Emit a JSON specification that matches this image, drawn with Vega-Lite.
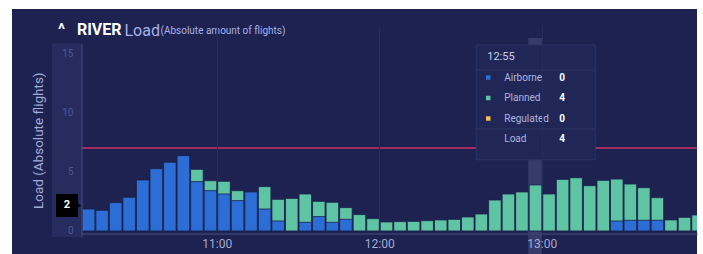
{
  "$schema": "https://vega.github.io/schema/vega-lite/v6.json",
  "width": 685,
  "height": 245,
  "autosize": {"type": "none"},
  "padding": {"left": 12, "top": 9, "right": 6, "bottom": 0},
  "background": "#ffffff",
  "config": {"view": {"fill": "#1d2251", "stroke": null}, "font": "Roboto"},
  "title": {"text": "^\u00a0\u00a0\u00a0RIVER", "anchor": "start", "frame": "group", "dx": 46, "offset": -42, "baseline": "alphabetic", "color": "#ffffff", "fontSize": 16, "fontWeight": "bold", "font": "Roboto"},
  "datasets": {
    "load": [
      {"t": "2024-01-01T10:10", "airborne": 1.85, "load": 1.85},
      {"t": "2024-01-01T10:15", "airborne": 1.74, "load": 1.74},
      {"t": "2024-01-01T10:20", "airborne": 2.39, "load": 2.39},
      {"t": "2024-01-01T10:25", "airborne": 2.84, "load": 2.84},
      {"t": "2024-01-01T10:30", "airborne": 4.3, "load": 4.3},
      {"t": "2024-01-01T10:35", "airborne": 5.25, "load": 5.25},
      {"t": "2024-01-01T10:40", "airborne": 5.79, "load": 5.79},
      {"t": "2024-01-01T10:45", "airborne": 6.35, "load": 6.35},
      {"t": "2024-01-01T10:50", "airborne": 4.16, "load": 5.2},
      {"t": "2024-01-01T10:55", "airborne": 3.4, "load": 4.24},
      {"t": "2024-01-01T11:00", "airborne": 3.12, "load": 4.19},
      {"t": "2024-01-01T11:05", "airborne": 2.56, "load": 3.4},
      {"t": "2024-01-01T11:10", "airborne": 3.29, "load": 3.29},
      {"t": "2024-01-01T11:15", "airborne": 1.85, "load": 3.74},
      {"t": "2024-01-01T11:20", "airborne": 0.84, "load": 2.67},
      {"t": "2024-01-01T11:25", "airborne": 0, "load": 2.75},
      {"t": "2024-01-01T11:30", "airborne": 0.73, "load": 3.12},
      {"t": "2024-01-01T11:35", "airborne": 1.21, "load": 2.5},
      {"t": "2024-01-01T11:40", "airborne": 0.73, "load": 2.42},
      {"t": "2024-01-01T11:45", "airborne": 0.98, "load": 1.97},
      {"t": "2024-01-01T11:50", "airborne": 0, "load": 1.38},
      {"t": "2024-01-01T11:55", "airborne": 0, "load": 1.04},
      {"t": "2024-01-01T12:00", "airborne": 0, "load": 0.76},
      {"t": "2024-01-01T12:05", "airborne": 0, "load": 0.79},
      {"t": "2024-01-01T12:10", "airborne": 0, "load": 0.81},
      {"t": "2024-01-01T12:15", "airborne": 0, "load": 0.87},
      {"t": "2024-01-01T12:20", "airborne": 0, "load": 0.93},
      {"t": "2024-01-01T12:25", "airborne": 0, "load": 0.98},
      {"t": "2024-01-01T12:30", "airborne": 0, "load": 1.18},
      {"t": "2024-01-01T12:35", "airborne": 0, "load": 1.43},
      {"t": "2024-01-01T12:40", "airborne": 0, "load": 2.61},
      {"t": "2024-01-01T12:45", "airborne": 0, "load": 3.12},
      {"t": "2024-01-01T12:50", "airborne": 0, "load": 3.29},
      {"t": "2024-01-01T12:55", "airborne": 0, "load": 3.88},
      {"t": "2024-01-01T13:00", "airborne": 0, "load": 3.12},
      {"t": "2024-01-01T13:05", "airborne": 0, "load": 4.35},
      {"t": "2024-01-01T13:10", "airborne": 0, "load": 4.49},
      {"t": "2024-01-01T13:15", "airborne": 0, "load": 3.82},
      {"t": "2024-01-01T13:20", "airborne": 0, "load": 4.27},
      {"t": "2024-01-01T13:25", "airborne": 0.84, "load": 4.38},
      {"t": "2024-01-01T13:30", "airborne": 0.9, "load": 3.96},
      {"t": "2024-01-01T13:35", "airborne": 0.9, "load": 3.65},
      {"t": "2024-01-01T13:40", "airborne": 0.9, "load": 2.81},
      {"t": "2024-01-01T13:45", "airborne": 0, "load": 0.93},
      {"t": "2024-01-01T13:50", "airborne": 0, "load": 1.15},
      {"t": "2024-01-01T13:55", "airborne": 0, "load": 1.35}
    ],
    "tip": [
      {"label": "Airborne", "value": 0},
      {"label": "Planned", "value": 4},
      {"label": "Regulated", "value": 0},
      {"label": "Load", "value": 4}
    ]
  },
  "resolve": {"scale": {"y": "independent"}},
  "layer": [
    {
      "layer": [
        {
          "data": {"values": [{}]},
          "mark": {"type": "rect", "color": "#353c6c"},
          "encoding": {
            "x": {"datum": {"year": 2024, "month": 1, "date": 1, "hours": 12, "minutes": 55}, "type": "temporal"},
            "x2": {"datum": {"year": 2024, "month": 1, "date": 1, "hours": 13, "minutes": 0}},
            "y": {"datum": 16.27, "type": "quantitative"},
            "y2": {"datum": -2}
          }
        },
        {
          "data": {"values": [{}]},
          "mark": {"type": "rect", "color": "#262c5e", "xOffset": -29.3},
          "encoding": {
            "x": {"datum": {"year": 2024, "month": 1, "date": 1, "hours": 10, "minutes": 10}, "type": "temporal"},
            "x2": {"datum": {"year": 2024, "month": 1, "date": 1, "hours": 10, "minutes": 10}},
            "y": {"datum": 15.8, "type": "quantitative"},
            "y2": {"datum": -0.5}
          }
        },
        {
          "data": {"name": "load"},
          "mark": {"type": "bar", "color": "#5ec4a3", "clip": true, "stroke": "#1a1f4a", "strokeWidth": 0.8},
          "encoding": {
            "x": {
              "field": "t", "type": "temporal",
              "timeUnit": {"unit": "yearmonthdatehoursminutes", "step": 5},
              "scale": {
                "domain": [
                  {"year": 2024, "month": 1, "date": 1, "hours": 10, "minutes": 10},
                  {"year": 2024, "month": 1, "date": 1, "hours": 13, "minutes": 57, "seconds": 18}
                ],
                "range": [69.3, 685]
              },
              "axis": {
                "title": "Load",
                "titleX": 112, "titleY": -198.5, "titleAngle": 0, "titleAlign": "left", "titleBaseline": "alphabetic",
                "titleColor": "#a6b2e8", "titleFontSize": 16, "titleFontWeight": "normal", "titleFont": "Roboto",
                "values": [
                  {"year": 2024, "month": 1, "date": 1, "hours": 11, "minutes": 0},
                  {"year": 2024, "month": 1, "date": 1, "hours": 12, "minutes": 0},
                  {"year": 2024, "month": 1, "date": 1, "hours": 13, "minutes": 0}
                ],
                "format": "%H:%M",
                "offset": -20.5,
                "ticks": false,
                "zindex": 1,
                "domainColor": "#394070", "domainWidth": 1.5,
                "labelColor": "#a3abd0", "labelFontSize": 12, "labelPadding": 5,
                "grid": true, "gridColor": "#262c5d", "gridWidth": 1
              }
            },
            "y": {
              "field": "load", "type": "quantitative",
              "scale": {"domain": [-0.5, 15.8], "range": [227.9, 34.6], "nice": false, "zero": false},
              "axis": {
                "title": "Load (Absolute flights)",
                "values": [0, 5, 10, 15],
                "offset": -69.5,
                "ticks": false,
                "grid": false,
                "zindex": 1,
                "domainColor": "#4a5285", "domainWidth": 1,
                "labelColor": "#4f5890", "labelFontSize": 10, "labelPadding": 8.5,
                "titleColor": "#a3acd6", "titleFontSize": 13.5, "titleFontWeight": "normal",
                "titleX": -43, "titleY": 131.25, "titleAngle": -90, "titleAlign": "center", "titleBaseline": "middle"
              }
            },
            "y2": {"datum": 0}
          }
        },
        {
          "data": {"name": "load"},
          "mark": {"type": "bar", "color": "#2c6ed6", "clip": true, "stroke": "#1a1f4a", "strokeWidth": 0.8},
          "transform": [{"filter": "datum.airborne > 0"}],
          "encoding": {
            "x": {"field": "t", "type": "temporal", "timeUnit": {"unit": "yearmonthdatehoursminutes", "step": 5}},
            "y": {"field": "airborne", "type": "quantitative"},
            "y2": {"datum": 0}
          }
        },
        {
          "data": {"values": [{}]},
          "mark": {"type": "rule", "color": "#d03064", "strokeWidth": 1.5},
          "encoding": {
            "x": {"datum": {"year": 2024, "month": 1, "date": 1, "hours": 10, "minutes": 10}, "type": "temporal"},
            "x2": {"datum": {"year": 2024, "month": 1, "date": 1, "hours": 13, "minutes": 57, "seconds": 18}},
            "y": {"datum": 7, "type": "quantitative"}
          }
        },
        {
          "data": {"values": [{}]},
          "mark": {"type": "rect", "fill": "#202757", "stroke": "#2c3466", "strokeWidth": 1, "xOffset": -52, "x2Offset": 67},
          "encoding": {
            "x": {"datum": {"year": 2024, "month": 1, "date": 1, "hours": 12, "minutes": 55}, "type": "temporal"},
            "x2": {"datum": {"year": 2024, "month": 1, "date": 1, "hours": 12, "minutes": 55}},
            "y": {"datum": 15.68, "type": "quantitative"},
            "y2": {"datum": 6}
          }
        },
        {
          "data": {"values": [{"sep": 13.57}, {"sep": 8.6}]},
          "mark": {"type": "rule", "color": "#2c3466", "strokeWidth": 1, "xOffset": -52, "x2Offset": 67},
          "encoding": {
            "x": {"datum": {"year": 2024, "month": 1, "date": 1, "hours": 12, "minutes": 55}, "type": "temporal"},
            "x2": {"datum": {"year": 2024, "month": 1, "date": 1, "hours": 12, "minutes": 55}},
            "y": {"field": "sep", "type": "quantitative"}
          }
        },
        {
          "data": {"values": [{}]},
          "mark": {"type": "rect", "color": "#000000", "xOffset": -25.3, "x2Offset": -3.3, "yOffset": -11.5, "y2Offset": 11.5},
          "encoding": {
            "x": {"datum": {"year": 2024, "month": 1, "date": 1, "hours": 10, "minutes": 10}, "type": "temporal"},
            "x2": {"datum": {"year": 2024, "month": 1, "date": 1, "hours": 10, "minutes": 10}},
            "y": {"datum": 2.15, "type": "quantitative"},
            "y2": {"datum": 2.15}
          }
        },
        {
          "data": {"values": [{}]},
          "mark": {"type": "point", "shape": "triangle-right", "filled": true, "color": "#000000", "opacity": 1, "size": 30, "xOffset": -2.5},
          "encoding": {
            "x": {"datum": {"year": 2024, "month": 1, "date": 1, "hours": 10, "minutes": 10}, "type": "temporal"},
            "y": {"datum": 2.15, "type": "quantitative"}
          }
        },
        {
          "data": {"values": [{}]},
          "mark": {"type": "text", "text": "2", "color": "#ffffff", "fontWeight": "bold", "fontSize": 11, "align": "center", "baseline": "middle", "dx": -14.3},
          "encoding": {
            "x": {"datum": {"year": 2024, "month": 1, "date": 1, "hours": 10, "minutes": 10}, "type": "temporal"},
            "y": {"datum": 2.15, "type": "quantitative"}
          }
        }
      ]
    },
    {
      "data": {"name": "tip"},
      "layer": [
        {
          "transform": [{"filter": "datum.label !== 'Load'"}],
          "mark": {"type": "point", "shape": "square", "filled": true, "opacity": 1, "size": 20, "xOffset": -40},
          "encoding": {
            "x": {"datum": {"year": 2024, "month": 1, "date": 1, "hours": 12, "minutes": 55}, "type": "temporal"},
            "y": {
              "field": "label", "type": "nominal",
              "scale": {"type": "point", "domain": ["12:55", "Airborne", "Planned", "Regulated", "Load"], "range": [48, 130], "padding": 0},
              "axis": {
                "orient": "left", "offset": 0,
                "domain": false, "labels": false, "ticks": false, "grid": false,
                "title": "(Absolute amount of flights)",
                "titleAngle": 0, "titleX": 148, "titleY": 24, "titleAlign": "left", "titleBaseline": "alphabetic",
                "titleColor": "#a6b2e8", "titleFontSize": 10, "titleFontWeight": "normal"
              }
            },
            "color": {
              "field": "label", "type": "nominal",
              "scale": {"domain": ["Airborne", "Planned", "Regulated"], "range": ["#2c6ed6", "#5ec4a3", "#f2c14e"]},
              "legend": null
            }
          }
        },
        {
          "mark": {"type": "text", "align": "left", "baseline": "middle", "dx": -24, "fontSize": 10, "color": "#aeb6df"},
          "encoding": {
            "x": {"datum": {"year": 2024, "month": 1, "date": 1, "hours": 12, "minutes": 55}, "type": "temporal"},
            "y": {"field": "label", "type": "nominal"},
            "text": {"field": "label"}
          }
        },
        {
          "mark": {"type": "text", "align": "center", "baseline": "middle", "dx": 34, "fontSize": 10, "fontWeight": "bold", "color": "#ffffff"},
          "encoding": {
            "x": {"datum": {"year": 2024, "month": 1, "date": 1, "hours": 12, "minutes": 55}, "type": "temporal"},
            "y": {"field": "label", "type": "nominal"},
            "text": {"field": "value", "type": "quantitative"}
          }
        },
        {
          "data": {"values": [{}]},
          "mark": {"type": "text", "text": "12:55", "align": "left", "baseline": "middle", "dx": -41, "fontSize": 11, "color": "#c9cee9"},
          "encoding": {
            "x": {"datum": {"year": 2024, "month": 1, "date": 1, "hours": 12, "minutes": 55}, "type": "temporal"},
            "y": {"datum": "12:55", "type": "nominal"}
          }
        }
      ]
    }
  ]
}
